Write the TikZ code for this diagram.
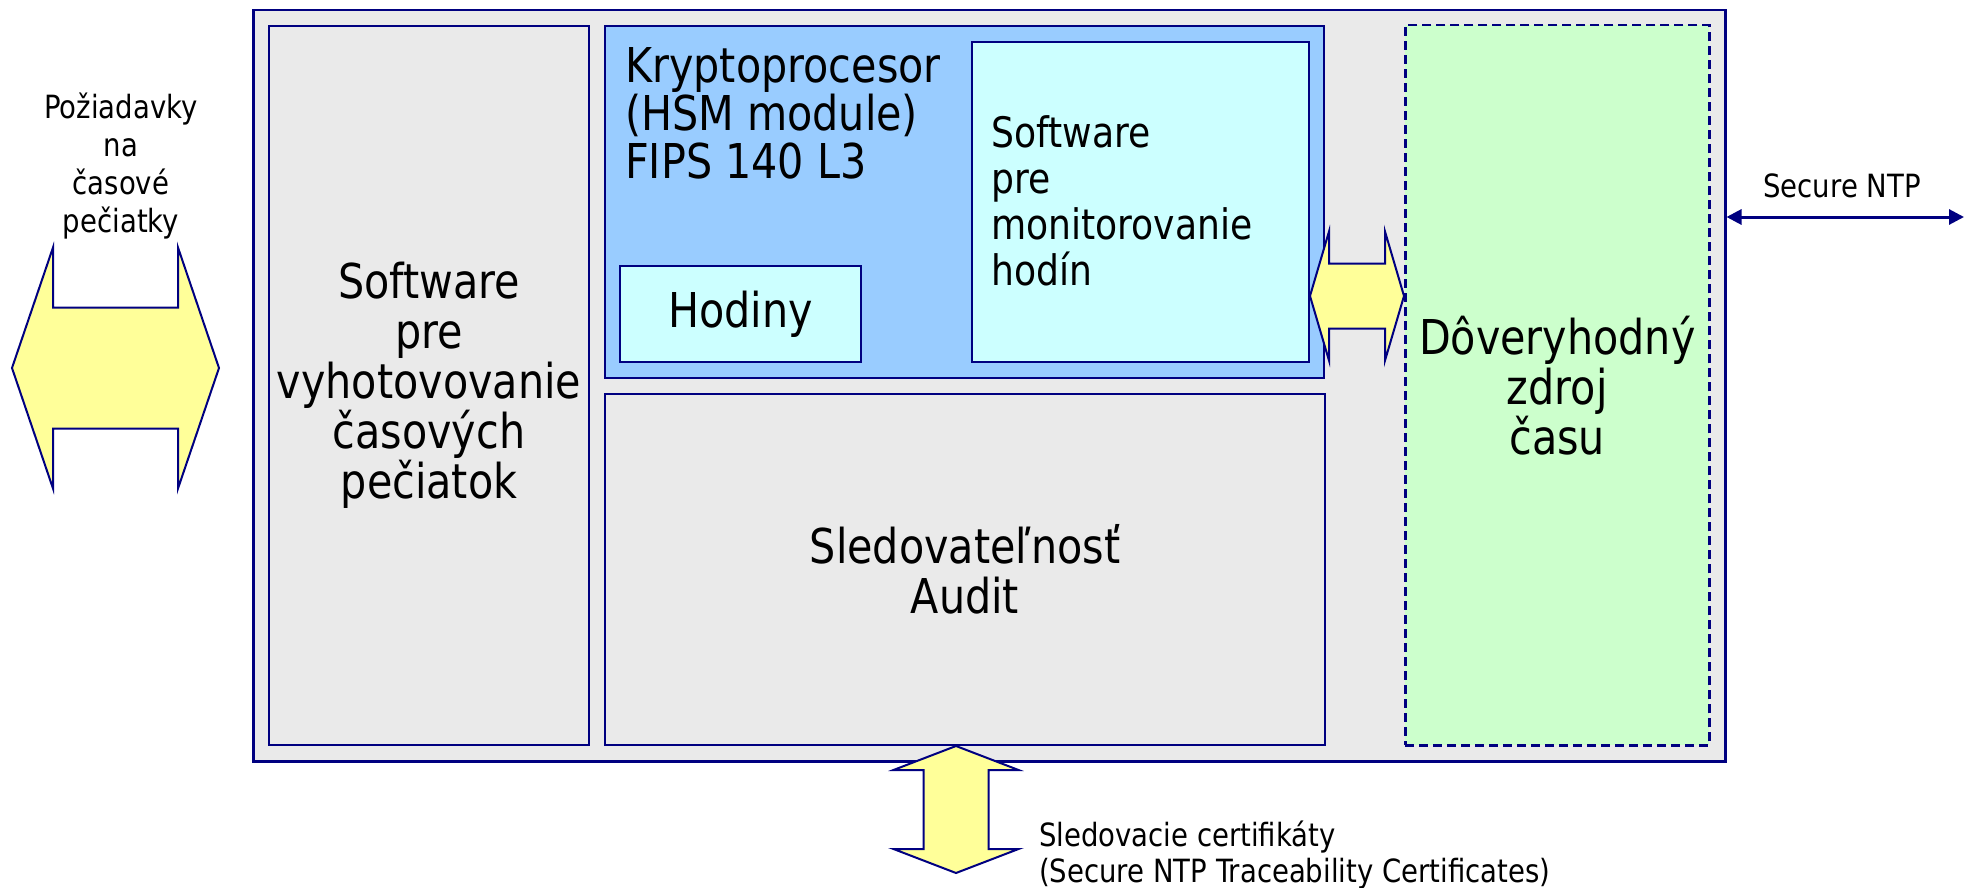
\documentclass[tikz,border=0pt]{standalone}
\usepackage{fontspec}
\setmainfont{DejaVu Sans}[FakeStretch=0.86]
\usetikzlibrary{calc,arrows.meta}
\definecolor{navy}{HTML}{000080}
\definecolor{panelgray}{HTML}{EAEAEA}
\definecolor{cryptoblue}{HTML}{99CCFF}
\definecolor{paleaqua}{HTML}{CCFFFF}
\definecolor{palegreen}{HTML}{CCFFCC}
\definecolor{paleyellow}{HTML}{FFFF99}
\newcommand\fzbig{\fontsize{48}{50}\selectfont}
\newcommand\fzcrypto{\fontsize{48}{48}\selectfont}
\newcommand\fzmid{\fontsize{42}{46}\selectfont}
\newcommand\fzsmall{\fontsize{32}{38}\selectfont}
\newcommand\fzbottom{\fontsize{32}{36}\selectfont}
% horizontal fat double arrow: left tip, right tip, head length, shaft half height, head half height
\newcommand\fatH[5]{\draw[fatarrow] (#1) -- ++(#3,-#5) -- ++(0,#5-#4) -- ($(#2)+(-#3,-#4)$) -- ++(0,-#5+#4) -- (#2) -- ++(-#3,#5) -- ++(0,-#5+#4) -- ($(#1)+(#3,#4)$) -- ++(0,#5-#4) -- cycle;}
% vertical fat double arrow: top tip, bottom tip, head length, shaft half width, head half width
\newcommand\fatV[5]{\draw[fatarrow] (#1) -- ++(-#5,#3) -- ++(#5-#4,0) -- ($(#2)+(-#4,-#3)$) -- ++(-#5+#4,0) -- (#2) -- ++(#5,-#3) -- ++(-#5+#4,0) -- ($(#1)+(#4,#3)$) -- ++(#5-#4,0) -- cycle;}
\begin{document}
\begin{tikzpicture}[x=1pt,y=-1pt,
  box/.style={rectangle,draw=navy,line width=2pt,inner sep=0pt,anchor=north west,align=center},
  fatarrow/.style={draw=navy,line width=2pt,fill=paleyellow,line join=miter},
  ntparrow/.style={draw=navy,line width=3pt,{Triangle[length=15pt,width=15pt]}-{Triangle[length=15pt,width=15pt]}},
  label/.style={inner sep=0pt,align=center}]
\fill[white] (0,0) rectangle (1966,888);
\useasboundingbox (0,0) rectangle (1966,888);

% outer frame
\node[box,fill=panelgray,line width=2.5pt,minimum width=1472,minimum height=751] (outer) at (252,9) {};

% left panel
\node[box,fill=panelgray,minimum width=320,minimum height=719,font=\fzbig] (sw) at (268,25)
  {Software\\pre\\vyhotovovanie\\časových\\pečiatok};

% crypto processor
\node[box,fill=cryptoblue,minimum width=719,minimum height=352] (crypto) at (604,25) {};
\node[label,anchor=north west,align=left,font=\fzcrypto] (cryptolabel) at (625,47)
  {Kryptoprocesor\\(HSM module)\\FIPS 140 L3};
\node[box,fill=paleaqua,minimum width=241,minimum height=96,font=\fzbig] (hod) at (619,265) {Hodiny};
\node[box,fill=paleaqua,minimum width=337,minimum height=320] (mon) at (971,41) {};
\node[label,anchor=west,align=left,font=\fzmid] (monlabel) at (991,201)
  {Software\\pre\\monitorovanie\\hodín};

% audit
\node[box,fill=panelgray,minimum width=720,minimum height=351,font=\fzbig] (audit) at (604,393)
  {Sledovateľnosť\\Audit};

% trusted time source
\node[box,fill=palegreen,dash pattern=on 9pt off 5pt,line width=2.5pt,minimum width=304,minimum height=720,font=\fzbig] (green) at (1404,24)
  {Dôveryhodný\\zdroj\\času};

% left requests arrow
\node[label,font=\fzsmall] (req) at (121,166) {Požiadavky\\na\\časové\\pečiatky};
\coordinate (la) at (12,368);
\coordinate (lb) at (219,368);
\fatH{la}{lb}{41}{60.5}{120.5}

% arrow between monitoring software and time source
\coordinate (ma) at (mon.east |- 0,296);
\coordinate (mb) at (green.west |- 0,296);
\fatH{ma}{mb}{19}{32.5}{64.5}

% secure NTP
\coordinate (ntpend) at (1964,217);
\draw[ntparrow] (outer.east |- ntpend) -- (ntpend);
\node[label,font=\fzsmall] (ntplabel) at (1842,186) {Secure NTP};

% bottom certificates arrow
\coordinate (ba) at (956,746);
\coordinate (bb) at (956,873);
\fatV{ba}{bb}{24}{32.5}{62.5}
\node[label,anchor=north west,align=left,font=\fzbottom] (cert) at (1039,821)
  {Sledovacie certifikáty\\(Secure NTP Traceability Certificates)};
\end{tikzpicture}
\end{document}
